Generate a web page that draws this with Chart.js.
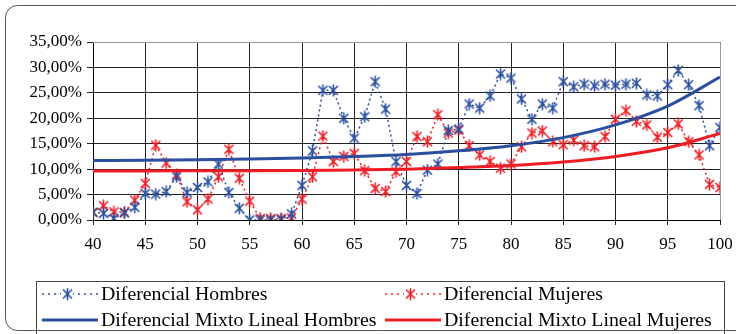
<!DOCTYPE html>
<html>
<head>
<meta charset="utf-8">
<script src="https://cdn.jsdelivr.net/npm/chart.js@4/dist/chart.umd.min.js"></script>
<style>
  body { margin: 0; background: #fff; }
  canvas { display: block; }
</style>
</head>
<body>
<canvas id="chart" width="736" height="334"></canvas>
<script>
// edades 40..100
const ages = [40,41,42,43,44,45,46,47,48,49,50,51,52,53,54,55,56,57,58,59,60,61,62,63,64,65,66,67,68,69,70,71,72,73,74,75,76,77,78,79,80,81,82,83,84,85,86,87,88,89,90,91,92,93,94,95,96,97,98,99,100];

const hombres = [1.5,1.3,0.3,1.4,2.5,5.2,5.1,5.6,8.5,5.4,
                 6.4,7.5,11.0,5.4,2.3,0.0,0.0,0.0,0.1,1.2,
                 6.8,13.6,25.5,25.5,20.0,16.1,20.3,27.2,21.8,11.5,
                 6.8,5.2,9.8,11.0,17.6,17.9,22.8,22.0,24.4,28.7,
                 27.9,23.8,19.8,22.8,22.0,27.2,26.2,26.7,26.4,26.7,
                 26.5,26.7,26.9,24.6,24.4,26.6,29.4,26.6,22.5,14.6,
                 18.2];

const mujeres = [1.5,2.8,1.6,1.5,3.9,7.2,14.7,11.2,8.9,3.6,
                 2.0,4.1,8.5,13.9,8.2,3.7,0.3,0.3,0.3,0.4,
                 4.1,8.5,16.5,11.5,12.5,13.1,9.7,6.2,5.6,9.5,
                 11.5,16.4,15.4,20.7,17.1,17.7,14.6,12.8,11.5,10.2,
                 11.0,14.4,17.1,17.5,15.4,14.8,15.7,14.6,14.4,16.4,
                 19.8,21.5,19.4,18.7,16.3,17.2,18.9,15.4,12.8,7.0,
                 6.4];

// curvas del ajuste mixto (leidas cada 5 años)
const trendAges = [40,45,50,55,60,65,70,75,80,85,90,95,100];
const mixtoHombres = [11.7,11.75,11.85,12.0,12.2,12.5,12.9,13.6,14.6,16.2,18.7,22.4,28.1];
const mixtoMujeres = [9.65,9.65,9.7,9.7,9.75,9.85,10.0,10.3,10.7,11.4,12.5,14.2,17.0];

const yTicks = [0,5,10,15,20,25,30,35];

const BLUE = '#2b4f9e';
const RED = '#ee1d25';
const SERIF = '"Liberation Serif", "Times New Roman", serif';

function starMarker(color) {
    const c = document.createElement('canvas');
    c.width = 13; c.height = 13;
    const g = c.getContext('2d');
    g.strokeStyle = color;
    g.lineWidth = 1.6;
    g.beginPath();
    g.moveTo(2, 2); g.lineTo(11, 11);
    g.moveTo(11, 2); g.lineTo(2, 11);
    g.moveTo(6.5, 0.5); g.lineTo(6.5, 12.5);
    g.stroke();
    return c;
}

const starBlue = starMarker(BLUE);
const starRed = starMarker(RED);

function pts(xs, ys) {
    return xs.map((x, i) => ({ x: x, y: ys[i] }));
}

const framePlugin = {
    id: 'frame',
    beforeDraw(chart) {
        const ctx = chart.ctx;
        ctx.save();
        ctx.fillStyle = '#fff';
        ctx.fillRect(0, 0, chart.width, chart.height);
        // borde exterior redondeado
        ctx.strokeStyle = '#555';
        ctx.lineWidth = 1;
        ctx.beginPath();
        ctx.roundRect(5.5, 5.5, 760, 325, 12);
        ctx.stroke();
        ctx.restore();
    },
    afterDraw(chart) {
        const ctx = chart.ctx;
        const a = chart.chartArea;
        ctx.save();
        // borde gris del area de trazado
        ctx.strokeStyle = '#999';
        ctx.lineWidth = 1;
        ctx.beginPath();
        ctx.moveTo(a.left, a.top + 0.5);
        ctx.lineTo(a.right + 0.5, a.top + 0.5);
        ctx.lineTo(a.right + 0.5, a.bottom);
        ctx.stroke();

        // leyenda
        ctx.strokeStyle = '#444';
        ctx.strokeRect(36.5, 281.5, 688, 60);
        ctx.font = '18px ' + SERIF;
        ctx.fillStyle = '#000';
        ctx.textBaseline = 'middle';

        const entries = [
            { x: 42, y: 294, color: BLUE, dotted: true, img: starBlue, text: 'Diferencial Hombres' },
            { x: 385, y: 294, color: RED, dotted: true, img: starRed, text: 'Diferencial Mujeres' },
            { x: 42, y: 320, color: BLUE, dotted: false, text: 'Diferencial Mixto Lineal Hombres' },
            { x: 385, y: 320, color: RED, dotted: false, text: 'Diferencial Mixto Lineal Mujeres' }
        ];
        entries.forEach(e => {
            ctx.strokeStyle = e.color;
            ctx.beginPath();
            if (e.dotted) {
                ctx.lineWidth = 1.5;
                ctx.setLineDash([2, 4]);
            } else {
                ctx.lineWidth = 3;
                ctx.setLineDash([]);
            }
            ctx.moveTo(e.x, e.y);
            ctx.lineTo(e.x + 56, e.y);
            ctx.stroke();
            ctx.setLineDash([]);
            if (e.img) {
                ctx.fillStyle = '#fff';
                ctx.fillRect(e.x + 19, e.y - 6, 12, 12);
                ctx.drawImage(e.img, e.x + 19, e.y - 6.5);
            }
            ctx.fillStyle = '#000';
            // texto algo mas ancho, como en la figura original
            ctx.save();
            ctx.translate(e.x + 59, e.y + 1);
            ctx.scale(1.1, 1);
            ctx.fillText(e.text, 0, 0);
            ctx.restore();
        });
        ctx.restore();
    }
};

const ctx = document.getElementById('chart').getContext('2d');
const chart = new Chart(ctx, {
    type: 'line',
    data: {
        datasets: [
            {
                label: 'Diferencial Hombres',
                data: pts(ages, hombres),
                borderColor: BLUE,
                borderWidth: 1.5,
                borderDash: [2, 3],
                pointStyle: starBlue,
                pointRadius: 6,
                tension: 0,
                order: 2
            },
            {
                label: 'Diferencial Mujeres',
                data: pts(ages, mujeres),
                borderColor: RED,
                borderWidth: 1.5,
                borderDash: [2, 3],
                pointStyle: starRed,
                pointRadius: 6,
                tension: 0,
                order: 2
            },
            {
                label: 'Diferencial Mixto Lineal Hombres',
                data: pts(trendAges, mixtoHombres),
                borderColor: BLUE,
                borderWidth: 3,
                pointRadius: 0,
                cubicInterpolationMode: 'monotone',
                order: 1
            },
            {
                label: 'Diferencial Mixto Lineal Mujeres',
                data: pts(trendAges, mixtoMujeres),
                borderColor: RED,
                borderWidth: 3,
                pointRadius: 0,
                cubicInterpolationMode: 'monotone',
                order: 1
            }
        ]
    },
    options: {
        responsive: false,
        animation: false,
        devicePixelRatio: 1,
        layout: { padding: { left: 0, top: 42, right: 16, bottom: 84 } },
        plugins: {
            legend: { display: false },
            tooltip: { enabled: false }
        },
        scales: {
            x: {
                type: 'linear',
                min: 40,
                max: 100,
                afterFit: s => { s.height = 30; s.paddingLeft = 0; s.paddingRight = 0; },
                ticks: {
                    stepSize: 5,
                    color: '#000',
                    font: { family: SERIF, size: 17 },
                    padding: 9
                },
                grid: { color: '#222', lineWidth: 1, tickLength: 5 },
                border: { color: '#000' }
            },
            y: {
                min: 0,
                max: 35,
                afterFit: s => { s.width = 93; s.paddingTop = 0; s.paddingBottom = 0; },
                afterBuildTicks: s => { s.ticks = yTicks.map(v => ({ value: v })); },
                ticks: {
                    color: '#000',
                    font: { family: SERIF, size: 17 },
                    padding: 5,
                    callback: v => v.toFixed(2).replace('.', ',') + '%'
                },
                grid: { color: '#222', lineWidth: 1, tickLength: 6 },
                border: { color: '#000' }
            }
        }
    },
    plugins: [framePlugin]
});
</script>
</body>
</html>
